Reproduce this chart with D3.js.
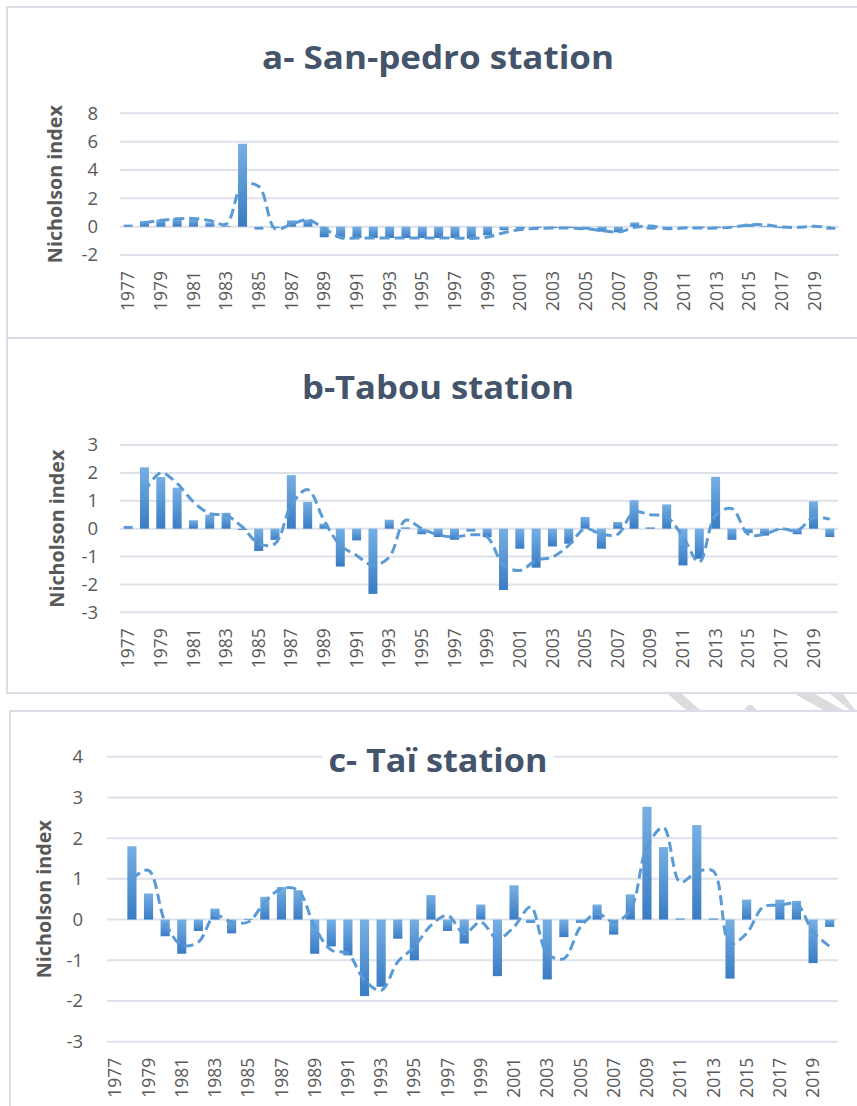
<!DOCTYPE html>
<html>
<head>
<meta charset="utf-8">
<script src="https://cdnjs.cloudflare.com/ajax/libs/d3/7.8.5/d3.min.js"></script>
<style>
    body { margin: 0; background: #fff; }
    svg text { font-family: "Open Sans", "DejaVu Sans", sans-serif; }
</style>
</head>
<body>
<svg id="chart" width="857" height="1106"></svg>
<script>
// categories (years on x axis)
var years = [1977, 1978, 1979, 1980, 1981, 1982, 1983, 1984, 1985, 1986,
             1987, 1988, 1989, 1990, 1991, 1992, 1993, 1994, 1995, 1996,
             1997, 1998, 1999, 2000, 2001, 2002, 2003, 2004, 2005, 2006,
             2007, 2008, 2009, 2010, 2011, 2012, 2013, 2014, 2015, 2016,
             2017, 2018, 2019, 2020];
var yearTicks = [1977, 1979, 1981, 1983, 1985, 1987, 1989, 1991, 1993, 1995, 1997,
                 1999, 2001, 2003, 2005, 2007, 2009, 2011, 2013, 2015, 2017, 2019];

// a - San-pedro
var sanPedroIndex = [0.15, 0.4, 0.5, 0.6, 0.55, 0.3, 0.05, 5.85, -0.2, -0.1,
                     0.45, 0.5, -0.75, -0.8, -0.8, -0.8, -0.8, -0.8, -0.8, -0.8,
                     -0.8, -0.85, -0.6, -0.25, -0.15, -0.1, -0.1, -0.1, -0.2, -0.35,
                     -0.4, 0.3, -0.2, -0.1, -0.1, -0.1, -0.1, 0.05, 0.2, 0.05,
                     -0.1, 0.0, 0.05, -0.2];
var sanPedroTrend = [null, 0.28, 0.45, 0.55, 0.58, 0.43, 0.18, 2.95, 2.83, -0.15,
                     0.18, 0.48, -0.13, -0.78, -0.8, -0.8, -0.8, -0.8, -0.8, -0.8,
                     -0.8, -0.83, -0.73, -0.43, -0.2, -0.13, -0.1, -0.1, -0.15, -0.28,
                     -0.38, -0.05, 0.05, -0.15, -0.1, -0.1, -0.1, -0.03, 0.13, 0.13,
                     -0.03, -0.05, 0.03, -0.1];
var sanPedroTicks = [-2, 0, 2, 4, 6, 8];

// b - Tabou
var tabouIndex = [0.1, 2.2, 1.85, 1.47, 0.3, 0.5, 0.57, -0.05, -0.8, -0.4,
                  1.92, 0.96, 0.18, -1.36, -0.42, -2.34, 0.32, 0.05, -0.2, -0.3,
                  -0.4, -0.1, -0.3, -2.2, -0.72, -1.4, -0.64, -0.54, 0.42, -0.72,
                  0.24, 1.02, 0.05, 0.87, -1.32, -1.08, 1.86, -0.4, -0.15, -0.25,
                  -0.05, -0.2, 0.98, -0.3];
var tabouTrend = [null, 1.32, 2.0, 1.62, 0.96, 0.54, 0.48, 0.06, -0.54, -0.54,
                  0.85, 1.4, 0.3, -0.6, -0.96, -1.32, -1.02, 0.3, 0.0, -0.22,
                  -0.3, -0.22, -0.3, -1.3, -1.5, -1.14, -1.02, -0.6, 0.0, -0.2,
                  -0.2, 0.6, 0.5, 0.42, -0.3, -1.2, 0.48, 0.72, -0.2, -0.2,
                  0.0, -0.07, 0.4, 0.34];
var tabouTicks = [-3, -2, -1, 0, 1, 2, 3];

// c - Taï
var taiIndex = [0.0, 1.8, 0.64, -0.41, -0.84, -0.28, 0.27, -0.34, 0.02, 0.56,
                0.8, 0.72, -0.84, -0.66, -0.88, -1.88, -1.65, -0.47, -1.0, 0.6,
                -0.28, -0.59, 0.37, -1.39, 0.84, -0.08, -1.47, -0.43, -0.08, 0.37,
                -0.37, 0.62, 2.77, 1.78, 0.03, 2.32, 0.03, -1.45, 0.49, 0.0,
                0.49, 0.46, -1.07, -0.18];
var taiTrend = [null, 1.0, 1.21, -0.06, -0.63, -0.55, 0.1, -0.06, -0.06, 0.43,
                0.76, 0.72, -0.18, -0.75, -0.84, -1.49, -1.74, -1.04, -0.67, -0.14,
                0.1, -0.34, -0.06, -0.47, -0.18, 0.31, -0.84, -0.96, -0.18, 0.15,
                -0.06, 0.23, 1.78, 2.26, 0.92, 1.17, 1.19, -0.59, -0.34, 0.31,
                0.35, 0.39, -0.3, -0.66];
var taiTicks = [-3, -2, -1, 0, 1, 2, 3, 4];

var yTitle = "Nicholson index";

var svg = d3.select("#chart");

// bar gradient, lighter at top like the excel fill
var grad = svg.append("defs").append("linearGradient")
    .attr("id", "barFill")
    .attr("x1", 0).attr("y1", 0).attr("x2", 0).attr("y2", 1);
grad.append("stop").attr("offset", "0%").attr("stop-color", "#76afe3");
grad.append("stop").attr("offset", "100%").attr("stop-color", "#3a7cc4");

// panel frames
var frames = [
    {x: 7, y: 7, w: 900, h: 331},
    {x: 7, y: 338, w: 900, h: 355},
    {x: 10, y: 711, w: 900, h: 420}
];
svg.selectAll("rect.frame").data(frames).enter().append("rect")
    .attr("class", "frame")
    .attr("x", function(d) { return d.x; })
    .attr("y", function(d) { return d.y; })
    .attr("width", function(d) { return d.w; })
    .attr("height", function(d) { return d.h; })
    .attr("fill", "none")
    .attr("stroke", "#d9dee6")
    .attr("stroke-width", 2);

// watermark scraps between panel b and c
var scraps = [
    [[668, 694], [682, 694], [700, 710], [686, 710]],
    [[744, 710], [748, 705], [752, 705], [757, 710]],
    [[795, 694], [815, 694], [843, 710], [823, 710]],
    [[830, 694], [843, 694], [855, 710], [850, 710]]
];
svg.selectAll("polygon.scrap").data(scraps).enter().append("polygon")
    .attr("class", "scrap")
    .attr("points", function(d) { return d.join(" "); })
    .attr("fill", "#dcdcdc");

var panels = [
    {title: "a- San-pedro station", values: sanPedroIndex, trend: sanPedroTrend, ticks: sanPedroTicks,
     left: 120, right: 839, top: 113.3, bottom: 255, titleY: 69, titleLen: 352, tickPad: 22, axisTitleX: 55, knockout: false},
    {title: "b-Tabou station", values: tabouIndex, trend: tabouTrend, ticks: tabouTicks,
     left: 120, right: 838, top: 445, bottom: 612.3, titleY: 399, titleLen: 272, tickPad: 22, axisTitleX: 57, knockout: false},
    {title: "c- Taï station", values: taiIndex, trend: taiTrend, ticks: taiTicks,
     left: 107, right: 838, top: 756.7, bottom: 1041.7, titleY: 772, titleLen: 219, tickPad: 24, axisTitleX: 44, knockout: true}
];

// plain hyphen minus, no decimals, like excel
var plainNum = function(d) { return String(d); };

var drawPanel = function(p) {
    var g = svg.append("g");

    var x = d3.scaleBand()
        .domain(years)
        .range([p.left, p.right])
        .paddingInner(0.45)
        .paddingOuter(0.225);

    var y = d3.scaleLinear()
        .domain(d3.extent(p.ticks))
        .range([p.bottom, p.top]);

    // gridlines
    g.append("g").selectAll("line").data(p.ticks).enter().append("line")
        .attr("x1", p.left).attr("x2", p.right)
        .attr("y1", function(d) { return y(d); })
        .attr("y2", function(d) { return y(d); })
        .attr("stroke", "#dde2ea")
        .attr("stroke-width", 2);

    // y axis labels
    var yAxis = g.append("g")
        .attr("transform", "translate(" + p.left + ",0)")
        .call(d3.axisLeft(y).tickValues(p.ticks).tickFormat(plainNum).tickSize(0).tickPadding(p.tickPad));
    yAxis.select(".domain").remove();
    yAxis.selectAll("text")
        .style("font-size", "18.5px")
        .attr("fill", "#595959");

    // x axis labels, rotated
    var xAxis = g.append("g")
        .attr("transform", "translate(0," + p.bottom + ")")
        .call(d3.axisBottom(x).tickValues(yearTicks).tickSize(0));
    xAxis.select(".domain").remove();
    xAxis.selectAll("text")
        .attr("transform", "rotate(-90)")
        .attr("x", -16)
        .attr("y", 0)
        .attr("dy", "0.35em")
        .style("text-anchor", "end")
        .style("font-size", "17.5px")
        .attr("fill", "#595959");

    // bars
    g.append("g").selectAll("rect").data(p.values).enter().append("rect")
        .attr("x", function(d, i) { return x(years[i]); })
        .attr("width", x.bandwidth())
        .attr("y", function(d) { return y(Math.max(0, d)); })
        .attr("height", function(d) { return Math.abs(y(d) - y(0)); })
        .attr("fill", "url(#barFill)");

    // dashed trend
    var line = d3.line()
        .defined(function(d) { return d != null; })
        .x(function(d, i) { return x(years[i]) + x.bandwidth() / 2; })
        .y(function(d) { return y(d); })
        .curve(d3.curveCatmullRom.alpha(0.5));

    g.append("path")
        .datum(p.trend)
        .attr("d", line)
        .attr("fill", "none")
        .attr("stroke", "#5b9bd5")
        .attr("stroke-width", 3)
        .attr("stroke-dasharray", "10,5");

    // y axis title
    g.append("text")
        .attr("transform", "translate(" + p.axisTitleX + "," + ((p.top + p.bottom) / 2) + ") rotate(-90)")
        .attr("text-anchor", "middle")
        .attr("dy", "0.35em")
        .attr("textLength", 158)
        .attr("lengthAdjust", "spacingAndGlyphs")
        .style("font-size", "19px")
        .style("font-weight", "bold")
        .attr("fill", "#595959")
        .text(yTitle);

    // chart title
    var titleG = g.append("g");
    var title = titleG.append("text")
        .attr("x", 438)
        .attr("y", p.titleY)
        .attr("text-anchor", "middle")
        .attr("textLength", p.titleLen)
        .attr("lengthAdjust", "spacingAndGlyphs")
        .style("font-size", "33px")
        .style("font-weight", "bold")
        .attr("fill", "#44546a")
        .text(p.title);

    if (p.knockout) {
        //title sits on the top gridline, hide it behind
        var bb = title.node().getBBox();
        titleG.insert("rect", "text")
            .attr("x", bb.x - 6).attr("y", bb.y)
            .attr("width", bb.width + 12).attr("height", bb.height)
            .attr("fill", "#fff");
    }
};

panels.forEach(drawPanel);
</script>
</body>
</html>
